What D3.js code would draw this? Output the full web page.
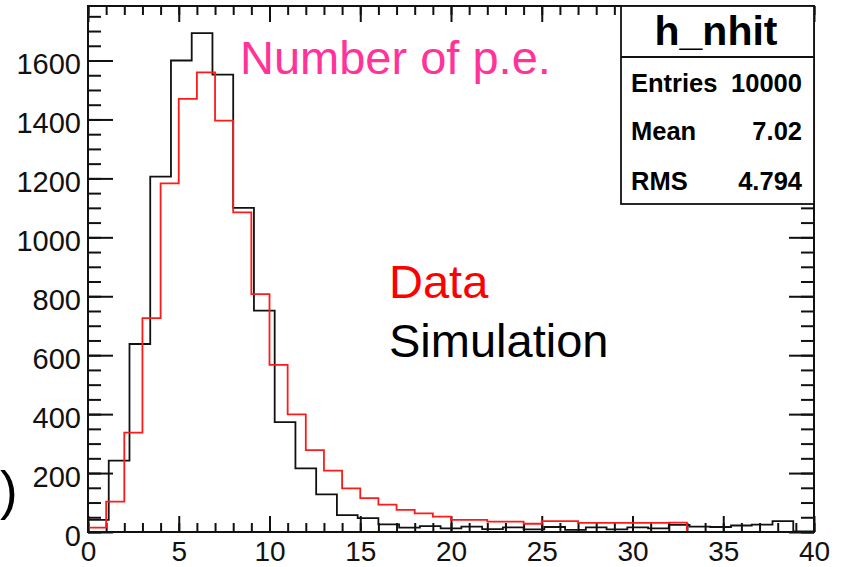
<!DOCTYPE html>
<html>
<head>
<meta charset="utf-8">
<script src="https://cdn.jsdelivr.net/npm/d3@7"></script>
<style>
	body { margin: 0; background: #fff; }
	svg { display: block; font-family: "Liberation Sans", Arial, Helvetica, sans-serif; }
</style>
</head>
<body>
<script>
// bin contents
// Data: 40 bins of width 1 over [0, 40]
const dataCounts = [15, 103, 337, 726, 1183, 1470, 1560, 1396, 1085, 807,
	567, 399, 278, 208, 148, 115, 93, 75, 63, 52,
	41, 41, 35, 35, 28, 37, 37, 31, 31, 31,
	31, 31, 32, 0, 0, 0, 0, 0, 0, 0];
// Simulation: 35 bins over [0, 40]
const simCounts = [41, 242, 638, 1206, 1600, 1693, 1552, 1100, 751, 373,
	216, 128, 57, 47, 26, 15, 20, 12, 18, 10,
	16, 9, 17, 7, 16, 9, 16, 12, 24, 18,
	17, 22, 25, 37, 2];
const xTicks = [0, 5, 10, 15, 20, 25, 30, 35, 40];
const yTicks = [0, 200, 400, 600, 800, 1000, 1200, 1400, 1600];
const statNames = ["Entries", "Mean", "RMS"];
const statValues = ["10000", "7.02", "4.794"];

let width = 846;
let height = 567;
let frame = {left: 88, right: 814, top: 6, bottom: 532};

let svg = d3.select("body").append("svg")
	.attr("width", width)
	.attr("height", height);

let x = d3.scaleLinear().domain([0, 40]).range([frame.left, frame.right]);
let y = d3.scaleLinear().domain([0, 1785]).range([frame.bottom, frame.top]);

let minorX = d3.range(0, 41, 1);
let minorY = d3.range(0, 1785, 50);

function styleAxis(g, size) {
	g.select(".domain").remove();
	g.selectAll("line").attr("stroke", "#111").attr("stroke-width", 2);
	g.selectAll("text")
		.attr("fill", "#111")
		.attr("font-size", size || 29);
}

// minor ticks
svg.append("g").attr("transform", `translate(0,${frame.bottom})`)
	.call(d3.axisBottom(x).tickValues(minorX).tickSize(-9).tickFormat(""))
	.call(styleAxis);
svg.append("g").attr("transform", `translate(0,${frame.top})`)
	.call(d3.axisTop(x).tickValues(minorX).tickSize(-9).tickFormat(""))
	.call(styleAxis);
svg.append("g").attr("transform", `translate(${frame.left},0)`)
	.call(d3.axisLeft(y).tickValues(minorY).tickSize(-13).tickFormat(""))
	.call(styleAxis);
svg.append("g").attr("transform", `translate(${frame.right},0)`)
	.call(d3.axisRight(y).tickValues(minorY).tickSize(-13).tickFormat(""))
	.call(styleAxis);

// major ticks + labels
svg.append("g").attr("transform", `translate(0,${frame.bottom})`)
	.call(d3.axisBottom(x).tickValues(xTicks).tickSize(-16).tickPadding(9).tickFormat(d3.format("d")))
	.call(styleAxis, 28);
svg.append("g").attr("transform", `translate(0,${frame.top})`)
	.call(d3.axisTop(x).tickValues(xTicks).tickSize(-16).tickFormat(""))
	.call(styleAxis);
svg.append("g").attr("transform", `translate(${frame.left},0)`)
	.call(d3.axisLeft(y).tickValues(yTicks).tickSize(-25).tickPadding(7).tickFormat(d3.format("d")))
	.call(styleAxis)
	.selectAll("text").attr("dy", "0.46em");
svg.append("g").attr("transform", `translate(${frame.right},0)`)
	.call(d3.axisRight(y).tickValues(yTicks).tickSize(-25).tickFormat(""))
	.call(styleAxis);

// histograms as step outlines
function stepPoints(counts) {
	let w = 40 / counts.length;
	let pts = counts.map((c, i) => [i * w, c]);
	pts.push([40, counts[counts.length - 1]]);
	return pts;
}
let line = d3.line()
	.x(d => x(d[0]))
	.y(d => y(d[1]))
	.curve(d3.curveStepAfter);

svg.append("path")
	.datum(stepPoints(simCounts))
	.attr("d", line)
	.attr("fill", "none")
	.attr("stroke", "#111")
	.attr("stroke-width", 1.8);
svg.append("path")
	.datum(stepPoints(dataCounts))
	.attr("d", line)
	.attr("fill", "none")
	.attr("stroke", "#ff1a1a")
	.attr("stroke-width", 1.8);

// frame
svg.append("rect")
	.attr("x", frame.left)
	.attr("y", frame.top)
	.attr("width", frame.right - frame.left)
	.attr("height", frame.bottom - frame.top)
	.attr("fill", "none")
	.attr("stroke", "#111")
	.attr("stroke-width", 2);

// stats box
let box = svg.append("g");
box.append("rect")
	.attr("x", 621).attr("y", frame.top)
	.attr("width", frame.right - 621).attr("height", 204 - frame.top)
	.attr("fill", "#fff")
	.attr("stroke", "#111")
	.attr("stroke-width", 1.8);
box.append("line")
	.attr("x1", 621).attr("x2", frame.right)
	.attr("y1", 57).attr("y2", 57)
	.attr("stroke", "#111")
	.attr("stroke-width", 1.8);
box.append("text")
	.attr("x", 716).attr("y", 45)
	.attr("text-anchor", "middle")
	.attr("font-size", 41)
	.attr("font-weight", "bold")
	.text("h_nhit");
let rowY = [92, 140, 190];
box.selectAll(".statname")
	.data(statNames)
	.join("text")
	.attr("class", "statname")
	.attr("x", 631)
	.attr("y", (d, i) => rowY[i])
	.attr("font-size", 25.5)
	.attr("font-weight", "bold")
	.text(d => d);
box.selectAll(".statval")
	.data(statValues)
	.join("text")
	.attr("class", "statval")
	.attr("x", 802)
	.attr("y", (d, i) => rowY[i])
	.attr("text-anchor", "end")
	.attr("font-size", 25.5)
	.attr("font-weight", "bold")
	.text(d => d);

// annotations
svg.append("text")
	.attr("x", 240).attr("y", 74)
	.attr("font-size", 47)
	.attr("fill", "#ff3399")
	.text("Number of p.e.");
svg.append("text")
	.attr("x", 389).attr("y", 298)
	.attr("font-size", 47)
	.attr("fill", "#ff0000")
	.text("Data");
svg.append("text")
	.attr("x", 389).attr("y", 357)
	.attr("font-size", 47)
	.attr("fill", "#000")
	.text("Simulation");
// stray bracket at the left edge of the slide
svg.append("text")
	.attr("x", 0).attr("y", 509)
	.attr("font-size", 53)
	.attr("fill", "#000")
	.text(")");
</script>
</body>
</html>
